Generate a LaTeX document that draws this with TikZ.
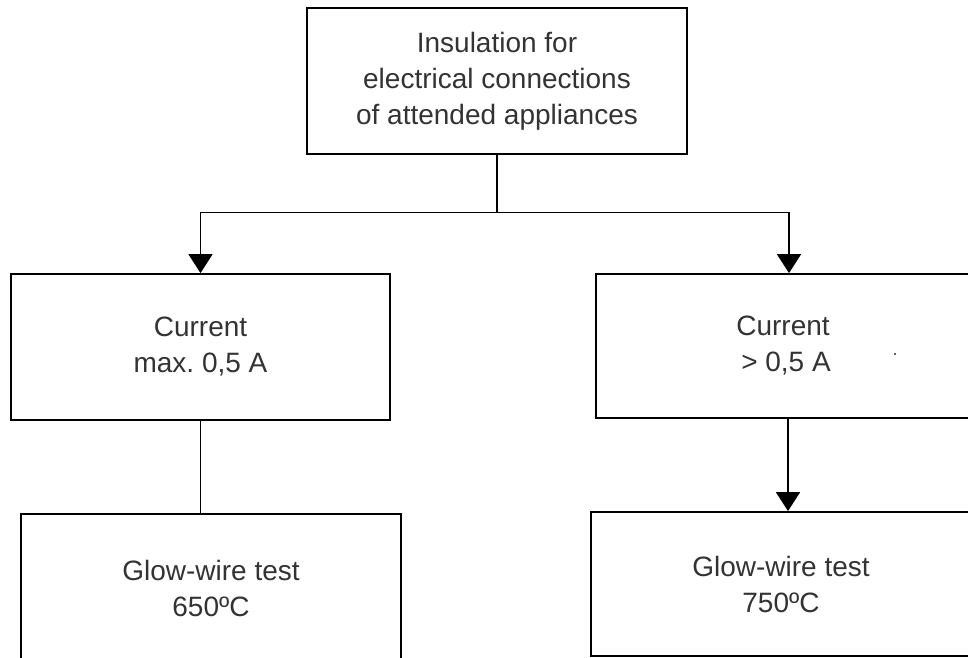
\documentclass[tikz,border=0pt]{standalone}
\usepackage{fontspec}
\setmainfont{Liberation Sans}
\usetikzlibrary{arrows.meta,calc}
\frenchspacing
\begin{document}
\begin{tikzpicture}[x=1pt,y=-1pt,
  box/.style={draw=black,line width=1.8pt,rectangle,inner sep=0pt,align=center,
    font=\fontsize{28}{36}\selectfont,text=black!80},
  link/.style={draw=black,line width=1.8pt},
  arr/.style={link,-{Triangle[width=24pt,length=19pt]}}]
\useasboundingbox (0,0) rectangle (968,657);
\clip (0,0) rectangle (968,657);
\fill[white] (0,0) rectangle (968,657);
\node[box,minimum width=380pt,minimum height=146pt] (top) at (497,81)
  {Insulation for\\electrical connections\\of attended appliances};
\node[box,minimum width=379pt,minimum height=146pt] (lm) at (200.5,347)
  {Current\\max. 0,5 A};
\node[box,minimum width=374pt,minimum height=144pt] (rm) at (783,346)
  {Current\\\hspace*{6pt}> 0,5 A};
\node[box,minimum width=380pt,minimum height=148pt] (bl) at (211,588)
  {Glow-wire test\\650ºC};
\node[box,minimum width=380pt,minimum height=144pt] (br) at (781,584)
  {Glow-wire test\\750ºC};
\coordinate (j) at (497,212.5);
\draw[link] (top.south) -- (j);
\draw[arr] (j) -| (lm.north);
\draw[arr] (j) -| ([xshift=6pt]rm.north);
\draw[link] (lm.south) -- ([xshift=-10.5pt]bl.north);
\draw[arr] ([xshift=5pt]rm.south) -- ([xshift=7pt]br.north);
\fill[black!60] (894,353) rectangle (896,355);
\end{tikzpicture}
\end{document}
